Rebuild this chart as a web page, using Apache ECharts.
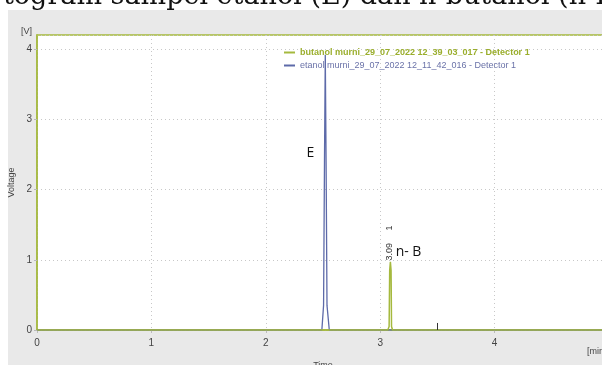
<!DOCTYPE html>
<html>
<head>
<meta charset="utf-8">
<script src="https://cdn.jsdelivr.net/npm/echarts@6/dist/echarts.min.js"></script>
<style>
html,body{margin:0;padding:0;background:#fff;}
#c{width:602px;height:365px;}
</style>
</head>
<body>
<div id="c"></div>
<script>
// ---- data ----
const seriesNames = ['butanol murni_29_07_2022 12_39_03_017 - Detector 1', 'etanol murni_29_07_2022 12_11_42_016 - Detector 1'];
const etanolTime = [0, 2.49, 2.505, 2.513, 2.52, 2.527, 2.535, 2.555, 5];
const etanolVolt = [0, 0, 0.35, 2.4, 3.92, 2.4, 0.35, 0, 0];
const butanolTime = [0, 3.066, 3.078, 3.083, 3.089, 3.095, 3.099, 3.108, 5];
const butanolVolt = [0, 0, 0.05, 0.85, 0.97, 0.85, 0.05, 0, 0];
const markerTime = 3.5;
const markerVolt = 0.1;
const xTicks = [0, 1, 2, 3, 4];
const yTicks = [0, 1, 2, 3, 4];
const peakLabelE = {text: 'E', t: 2.39, v: 2.52};
const peakLabelB = {text: 'n- B', t: 3.135, v: 1.11};
const peakRT = {text: '3.09     1', t: 3.09, v: 1.24};

const toPairs = (xs, ys) => xs.map((x, i) => [x, ys[i]]);

const green = '#a5b93e';
const blue = '#5d6aa9';
const gridStyle = {color: '#c8c8c8', type: [1, 3], width: 1};

const chart = echarts.init(document.getElementById('c'), null, {renderer: 'canvas'});
const baseGraphics = [
  {type: 'rect', z: -10, shape: {x: 8, y: 10, width: 600, height: 360}, style: {fill: '#e9e9e9'}, silent: true},
  {type: 'text', left: 21, top: 27, style: {text: '[V]', fontSize: 9, fontFamily: 'Liberation Sans', fill: '#444'}},
  {type: 'text', left: 587, top: 347, style: {text: '[min]', fontSize: 9, fontFamily: 'Liberation Sans', fill: '#444'}}
];
const option = {
  backgroundColor: '#ffffff',
  animation: false,
  title: {
    text: 'togram sampel etanol (E) dan n-butanol (n-B',
    left: -2, top: -22,
    textStyle: {fontFamily: 'DejaVu Serif', fontSize: 27, fontWeight: 'normal', color: '#111'}
  },
  graphic: baseGraphics,
  legend: {
    orient: 'vertical',
    left: 279, top: 43,
    itemGap: 4,
    itemWidth: 11, itemHeight: 2,
    icon: 'rect',
    textStyle: {fontFamily: 'Liberation Sans', fontSize: 9},
    data: [
      {name: seriesNames[0], textStyle: {color: '#9aae2c', fontWeight: 'bold'}},
      {name: seriesNames[1], textStyle: {color: '#6a72a8'}}
    ]
  },
  grid: {
    left: 37, top: 35, right: -7, bottom: 35,
    outerBoundsMode: 'none', containLabel: false,
    show: true, backgroundColor: '#ffffff', borderColor: green, borderWidth: 1.5
  },
  xAxis: {
    type: 'value', min: 0, max: 5, interval: 1,
    name: 'Time', nameLocation: 'middle', nameGap: 31,
    nameTextStyle: {fontFamily: 'Liberation Sans', fontSize: 9, color: '#444'},
    axisLine: {show: true, onZero: false, lineStyle: {color: green, width: 1.5}},
    axisTick: {show: true, length: 3, lineStyle: {color: '#bbb'}},
    axisLabel: {fontFamily: 'Liberation Sans', fontSize: 10, color: '#444', margin: 8, showMaxLabel: false,
      formatter: v => xTicks.includes(v) ? String(v) : ''},
    splitLine: {show: true, lineStyle: gridStyle}
  },
  yAxis: {
    type: 'value', min: 0, max: 4.2, interval: 1,
    name: 'Voltage', nameLocation: 'middle', nameGap: 17, nameRotate: 90,
    nameTextStyle: {fontFamily: 'Liberation Sans', fontSize: 9, color: '#444'},
    axisLine: {show: true, lineStyle: {color: green, width: 1.5}},
    axisTick: {show: true, length: 3, lineStyle: {color: '#bbb'}},
    axisLabel: {fontFamily: 'Liberation Sans', fontSize: 10, color: '#444', margin: 5, showMaxLabel: false,
      formatter: v => yTicks.includes(v) ? String(v) : ''},
    splitLine: {show: true, lineStyle: gridStyle}
  },
  series: [
    {
      name: seriesNames[1], type: 'line', showSymbol: false, z: 3,
      color: blue, lineStyle: {color: blue, width: 1.3},
      data: toPairs(etanolTime, etanolVolt)
    },
    {
      name: seriesNames[0], type: 'line', showSymbol: false, z: 4,
      color: green, lineStyle: {color: green, width: 1.5},
      data: toPairs(butanolTime, butanolVolt),
      markLine: {
        symbol: 'none', silent: true, label: {show: false},
        lineStyle: {color: '#333', type: 'solid', width: 1},
        data: [[{coord: [markerTime, 0]}, {coord: [markerTime, markerVolt]}]]
      }
    }
  ]
};
chart.setOption(option);

function addAnnotations() {
  const pE = chart.convertToPixel({gridIndex: 0}, [peakLabelE.t, peakLabelE.v]);
  const pB = chart.convertToPixel({gridIndex: 0}, [peakLabelB.t, peakLabelB.v]);
  const pR = chart.convertToPixel({gridIndex: 0}, [peakRT.t, peakRT.v]);
  chart.setOption({
    graphic: baseGraphics.concat([
      {type: 'text', x: pE[0], y: pE[1], z: 10, style: {text: peakLabelE.text, fontFamily: 'Open Sans', fontSize: 14, fill: '#111', align: 'center', verticalAlign: 'middle'}},
      {type: 'text', x: pB[0], y: pB[1], z: 10, style: {text: peakLabelB.text, fontFamily: 'Open Sans', fontSize: 14, fill: '#111', align: 'left', verticalAlign: 'middle'}},
      {type: 'text', x: pR[0] - 1, y: pR[1], rotation: Math.PI / 2, z: 10, style: {text: peakRT.text, fontFamily: 'Liberation Sans', fontSize: 9, fill: '#333', align: 'center', verticalAlign: 'middle'}}
    ])
  }, {replaceMerge: ['graphic']});
}
addAnnotations();
</script>
</body>
</html>
